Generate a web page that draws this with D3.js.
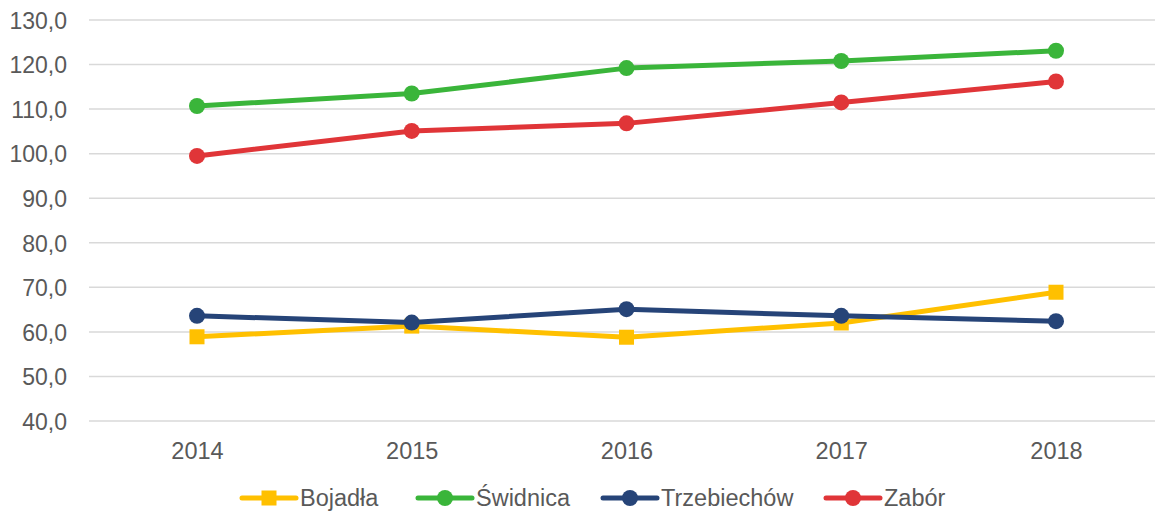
<!DOCTYPE html>
<html>
<head>
<meta charset="utf-8">
<script src="https://cdn.jsdelivr.net/npm/d3@7"></script>
<style>
  body { margin: 0; background: #fff; }
  svg text { font-family: "Liberation Sans", Arial, sans-serif; fill: #595959; }
</style>
</head>
<body>
<div id="chart"></div>
<script>
// Data
const years = ["2014", "2015", "2016", "2017", "2018"];
const bojadla = [58.9, 61.3, 58.8, 62.0, 68.9];
const swidnica = [110.7, 113.5, 119.2, 120.8, 123.1];
const trzebiechow = [63.6, 62.1, 65.1, 63.6, 62.4];
const zabor = [99.5, 105.1, 106.8, 111.5, 116.2];
const seriesNames = ["Bojadła", "Świdnica", "Trzebiechów", "Zabór"];
const yTicks = [40, 50, 60, 70, 80, 90, 100, 110, 120, 130];

const width = 1155;
const height = 513;

const series = [
  {name: seriesNames[0], values: bojadla, color: "#FFC000", marker: "square"},
  {name: seriesNames[1], values: swidnica, color: "#3AB53A", marker: "circle"},
  {name: seriesNames[2], values: trzebiechow, color: "#264478", marker: "circle"},
  {name: seriesNames[3], values: zabor, color: "#E03538", marker: "circle"}
];

const svg = d3.select("#chart")
  .append("svg")
  .attr("width", width)
  .attr("height", height);

// Scales
const x = d3.scalePoint()
  .domain(years)
  .range([197, 1056]);

const y = d3.scaleLinear()
  .domain([40, 130])
  .range([421, 20]);

// Gridlines
svg.append("g")
  .selectAll("line")
  .data(yTicks)
  .enter()
  .append("line")
  .attr("x1", 89)
  .attr("x2", width)
  .attr("y1", d => y(d))
  .attr("y2", d => y(d))
  .attr("stroke", "#d9d9d9")
  .attr("stroke-width", 1.5);

// Y axis labels
const fmt = d => d3.format(".1f")(d).replace(".", ",");
svg.append("g")
  .attr("transform", "translate(67,0)")
  .call(d3.axisLeft(y).tickValues(yTicks).tickFormat(fmt).tickSize(0).tickPadding(0))
  .call(g => g.select(".domain").remove())
  .selectAll("text")
  .style("font-size", "23px")
  .style("font-family", "Liberation Sans, Arial, sans-serif")
  .attr("fill", "#595959")
  .attr("dy", "0.36em");

// X axis labels
svg.append("g")
  .attr("transform", "translate(0,442)")
  .call(d3.axisBottom(x).tickSize(0).tickPadding(0))
  .call(g => g.select(".domain").remove())
  .selectAll("text")
  .style("font-size", "23.5px")
  .style("font-family", "Liberation Sans, Arial, sans-serif")
  .attr("fill", "#595959")
  .attr("dy", "0.71em");

// Lines
const line = d3.line()
  .x((d, i) => x(years[i]))
  .y(d => y(d));

series.forEach(s => {
  const g = svg.append("g");
  g.append("path")
    .datum(s.values)
    .attr("d", line)
    .attr("fill", "none")
    .attr("stroke", s.color)
    .attr("stroke-width", 5)
    .attr("stroke-linejoin", "round");

  if (s.marker === "square") {
    g.selectAll("rect")
      .data(s.values)
      .enter()
      .append("rect")
      .attr("x", (d, i) => x(years[i]) - 7.5)
      .attr("y", d => y(d) - 7.5)
      .attr("width", 15)
      .attr("height", 15)
      .attr("fill", s.color);
  } else {
    g.selectAll("circle")
      .data(s.values)
      .enter()
      .append("circle")
      .attr("cx", (d, i) => x(years[i]))
      .attr("cy", d => y(d))
      .attr("r", 8)
      .attr("fill", s.color);
  }
});

// Legend
const legend = svg.append("g").attr("transform", "translate(0,498)");
const legendX = [242, 418, 603, 826];
series.forEach((s, i) => {
  const item = legend.append("g").attr("transform", `translate(${legendX[i]},0)`);
  item.append("line")
    .attr("x1", 0)
    .attr("x2", 54)
    .attr("stroke", s.color)
    .attr("stroke-width", 5)
    .attr("stroke-linecap", "round");
  if (s.marker === "square") {
    item.append("rect")
      .attr("x", 27 - 7.5)
      .attr("y", -7.5)
      .attr("width", 15)
      .attr("height", 15)
      .attr("fill", s.color);
  } else {
    item.append("circle")
      .attr("cx", 27)
      .attr("r", 8)
      .attr("fill", s.color);
  }
  item.append("text")
    .attr("x", 58)
    .attr("dy", "0.36em")
    .style("font-size", "23.5px")
    .text(s.name);
});
</script>
</body>
</html>
